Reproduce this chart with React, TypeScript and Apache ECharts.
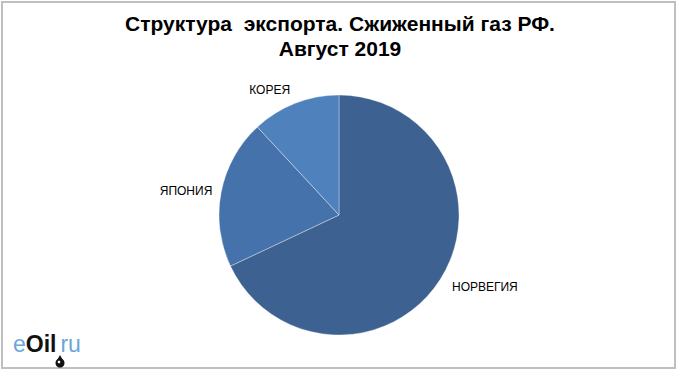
import React, { useEffect, useRef } from "react";
import * as echarts from "echarts";

const titleLines = ["Структура  экспорта. Сжиженный газ РФ.", "Август 2019"];
const categories = ["НОРВЕГИЯ", "ЯПОНИЯ", "КОРЕЯ"];
const values = [68, 20.1, 11.9];
const colors = ["#3d6191", "#4572aa", "#4f81bd"];
// label line lengths used only to place the outside labels (lines hidden)
const labelLen = [15, 8, 14];
const labelDist = [-1, 1, 0];

export default function App() {
  const ref = useRef<HTMLDivElement>(null);
  useEffect(() => {
    if (!ref.current) return;
    const chart = echarts.init(ref.current, null, { renderer: "svg" });
    chart.setOption({
      animation: false,
      backgroundColor: "#ffffff",
      title: {
        text: titleLines.join("\n"),
        left: "center",
        top: 6,
        textStyle: {
          fontFamily: "Liberation Sans, Arial, sans-serif",
          fontSize: 21,
          fontWeight: "bold",
          color: "#000000",
          lineHeight: 25,
        },
      },
      series: [
        {
          type: "pie",
          center: [339, 215],
          radius: 120,
          startAngle: 90,
          clockwise: true,
          avoidLabelOverlap: false,
          itemStyle: { borderColor: "rgba(255,255,255,0.35)", borderWidth: 1 },
          label: {
            show: true,
            position: "outside",
            formatter: "{b}",
            fontFamily: "Liberation Sans, Arial, sans-serif",
            fontSize: 12,
            color: "#000000",
          },
          labelLine: { show: false, length: 10, length2: 0 },
          emphasis: { disabled: true },
          data: categories.map((name, i) => ({
            name,
            value: values[i],
            itemStyle: { color: colors[i] },
            label: { distanceToLabelLine: labelDist[i] },
            labelLine: { show: false, length: labelLen[i], length2: 0 },
          })),
        },
      ],
      graphic: [
        {
          type: "rect",
          shape: { x: 2, y: 2, width: 673, height: 366 },
          style: { fill: "none", stroke: "#bfbfbf", lineWidth: 2 },
          silent: true,
        },
        {
          type: "text",
          left: 13,
          top: 332,
          style: {
            text: "{a|e}{b|Oil}{c|ru}",
            rich: {
              a: { fontFamily: "Liberation Sans, Arial, sans-serif", fontSize: 23, fill: "#6aa6dc" },
              b: { fontFamily: "Liberation Sans, Arial, sans-serif", fontSize: 23, fontWeight: "bold", fill: "#111111" },
              c: { fontFamily: "Liberation Sans, Arial, sans-serif", fontSize: 23, fill: "#6aa6dc", padding: [0, 0, 0, 4] },
            },
          },
        },
        {
          type: "polygon",
          shape: { points: [[60, 355], [56, 362], [64, 362]] },
          style: { fill: "#111111" },
        },
        {
          type: "circle",
          shape: { cx: 60, cy: 363, r: 4.5 },
          style: { fill: "#111111" },
        },
        {
          type: "circle",
          shape: { cx: 59, cy: 362, r: 1.3 },
          style: { fill: "#ffffff" },
        },
      ],
    });
    return () => chart.dispose();
  }, []);
  return (
    <div
      ref={ref}
      style={{ position: "absolute", left: 0, top: 0, width: 680, height: 374 }}
    />
  );
}
